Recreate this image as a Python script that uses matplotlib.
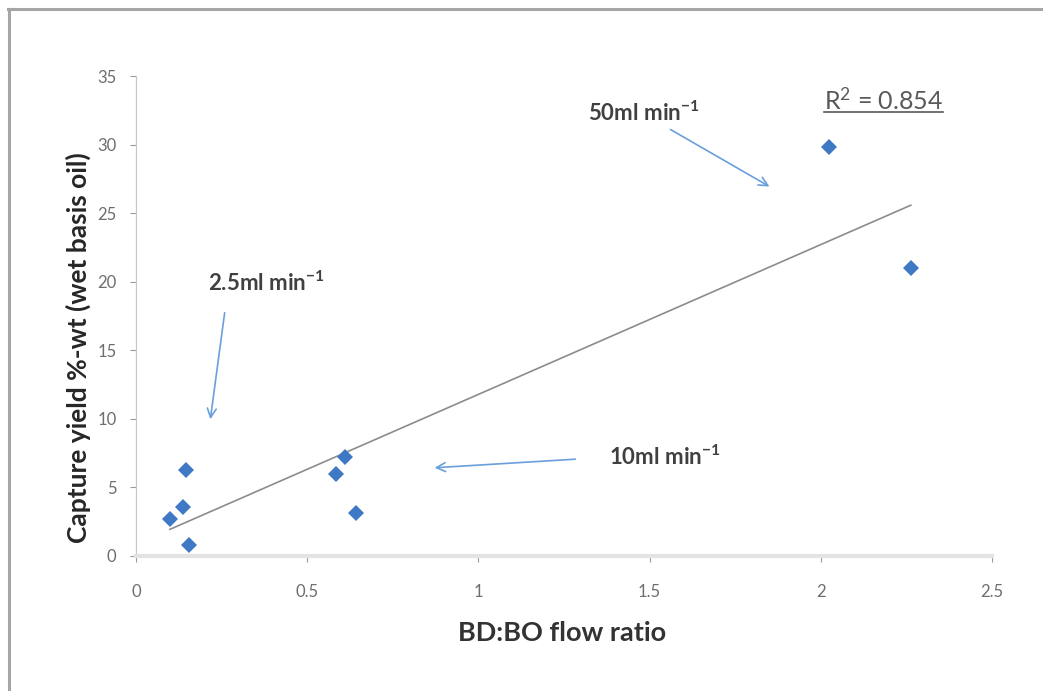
import numpy as np
import matplotlib
matplotlib.use('Agg')
import matplotlib.pyplot as plt
from matplotlib.lines import Line2D

# flow ratio vs capture yield
ratio = [0.099, 0.137, 0.146, 0.155, 0.584, 0.610, 0.643, 2.024, 2.263]
yield_pct = [2.7, 3.6, 6.3, 0.8, 6.0, 7.2, 3.1, 29.8, 21.0]

xticks = [0, 0.5, 1, 1.5, 2, 2.5]
xtick_labels = ['0', '0.5', '1', '1.5', '2', '2.5']
yticks = [0, 5, 10, 15, 20, 25, 30, 35]

# annotation labels: (text, text pos, arrow start, arrow end)
notes = [
    ('50ml min$^{-1}$', (1.484, 32.3), (1.554, 31.2), (1.857, 26.84)),
    ('2.5ml min$^{-1}$', (0.380, 19.9), (0.260, 17.94), (0.216, 9.77)),
    ('10ml min$^{-1}$', (1.545, 7.22), (1.291, 7.07), (0.864, 6.42)),
]

plt.rcParams['font.family'] = ['Lato', 'DejaVu Sans']
plt.rcParams['mathtext.default'] = 'regular'

fig = plt.figure(figsize=(10.43, 6.91), dpi=100)
ax = fig.add_axes([0.1304, 0.1954, 0.8207, 0.6946])

x = np.array(ratio)
y = np.array(yield_pct)
slope, icpt = np.polyfit(x, y, 1)
r2 = np.corrcoef(x, y)[0, 1] ** 2
xl = np.array([x.min(), x.max()])
ax.plot(xl, slope * xl + icpt, color='#8c8c8c', lw=1.2, zorder=2)

ax.plot(x, y, 'D', color='#3f78c4', markersize=8.5, markeredgewidth=0, zorder=3)

ax.set_xlim(0, 2.5)
ax.set_ylim(0, 35)
ax.set_xticks(xticks)
ax.set_xticklabels(xtick_labels)
ax.set_yticks(yticks)
ax.tick_params(axis='both', labelsize=12, colors='#9a9a9a', labelcolor='#6e6e6e', length=4, width=0.8)
ax.tick_params(axis='x', pad=16)
ax.tick_params(axis='y', pad=10)

for s in ['top', 'right']:
    ax.spines[s].set_visible(False)
ax.spines['left'].set_color('#c8c8c8')
ax.spines['left'].set_linewidth(0.9)
ax.spines['bottom'].set_color('#e3e3e3')
ax.spines['bottom'].set_linewidth(3)

ax.set_ylabel('Capture yield %-wt (wet basis oil)', fontsize=19, fontweight='bold', color='#262626')
ax.yaxis.set_label_coords(-0.053, 0.435)
ax.set_xlabel('BD:BO flow ratio', fontsize=19.5, fontweight='bold', color='#333333', va='center')
ax.xaxis.set_label_coords(0.498, -0.16)

for txt, tpos, start, end in notes:
    ax.text(tpos[0], tpos[1], txt, fontsize=16, fontweight='bold', color='#404040', ha='center', va='center')
    ax.annotate('', xy=end, xytext=start,
                arrowprops=dict(arrowstyle='->', color='#6a9fdc', lw=1.2, mutation_scale=16))

rt = ax.text(2.182, 33.26, 'R$^2$ = %.3f' % r2, fontsize=18, color='#595959', ha='center', va='center')
fig.canvas.draw()
bb = rt.get_window_extent().transformed(fig.transFigure.inverted())
fig.add_artist(Line2D([bb.x0, bb.x1], [bb.y0 + 0.002, bb.y0 + 0.002], color='#595959', lw=1.2, transform=fig.transFigure))

# chart area border (top and left visible)
fig.add_artist(Line2D([0.008, 1.0], [0.987, 0.987], color='#a6a6a6', lw=2.2, transform=fig.transFigure))
fig.add_artist(Line2D([0.009, 0.009], [0.0, 0.987], color='#a6a6a6', lw=2.2, transform=fig.transFigure))

fig.savefig('out.png', dpi=100)
